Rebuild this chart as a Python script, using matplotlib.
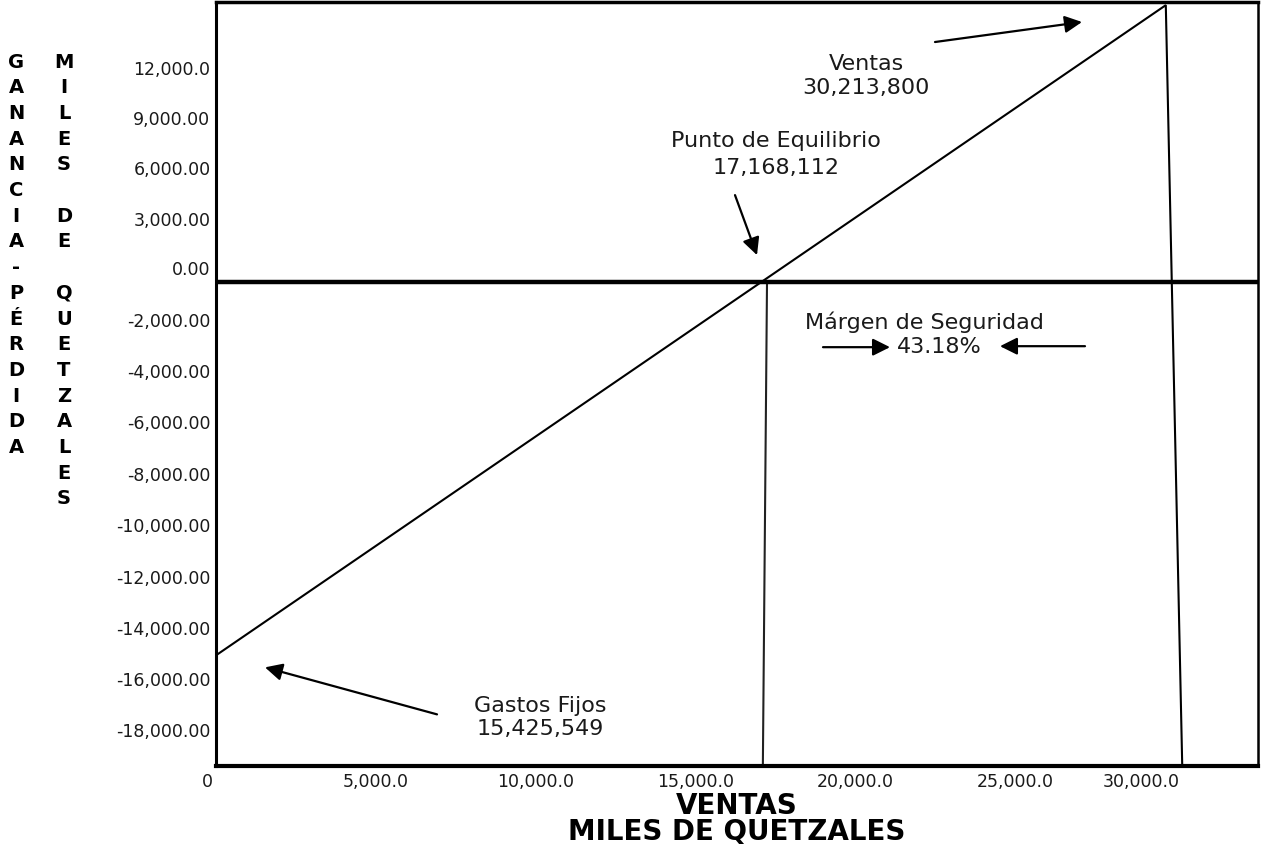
import matplotlib.pyplot as plt
from matplotlib.transforms import ScaledTranslation

# datos (miles de quetzales)
ventas_total = 30213.8
gastos_fijos = 15425.549
punto_equilibrio = 17168.112

# recta de resultado: arranca en -gastos fijos, sube hasta el borde y cae en ventas
linea_x = [0, 29700, 30214]
linea_y = [-15425.549, 11450, -20000]
equilibrio_x = [17230, 17100]
equilibrio_y = [0, -20000]

xtick_vals = [0, 5000, 10000, 15000, 20000, 25000, 30000]
xtick_labels = ["0", "5,000.0", "10,000.0", "15,000.0", "20,000.0", "25,000.0", "30,000.0"]
ytick_vals = [8850, 6780, 4715, 2605, 580, -1570, -3680, -5790, -7940,
              -10050, -12200, -14310, -16420, -18530]
ytick_labels = ["12,000.0", "9,000.00", "6,000.00", "3,000.00", "0.00", "-2,000.00",
                "-4,000.00", "-6,000.00", "-8,000.00", "-10,000.00", "-12,000.00",
                "-14,000.00", "-16,000.00", "-18,000.00"]

plt.rcParams['font.family'] = ['DejaVu Sans']

W, H = 1262, 846
fig = plt.figure(figsize=(W / 100, H / 100), dpi=100)
ax = fig.add_axes([216 / W, 1 - 766 / H, (1258 - 216) / W, (766 - 2) / H])

ax.plot(linea_x, linea_y, color='k', lw=1.5, solid_joinstyle='miter')
ax.plot(equilibrio_x, equilibrio_y, color='#222222', lw=1.5)
ax.axhline(0, color='k', lw=3.2)

ax.set_xlim(0, 32583)
ax.set_ylim(-20000, 11580)
ax.set_xticks(xtick_vals)
ax.set_xticklabels(xtick_labels)
ax.set_yticks(ytick_vals)
ax.set_yticklabels(ytick_labels)
ax.tick_params(length=0, labelsize=12.5, colors='#1a1a1a', pad=5)
ax.tick_params(axis='y', pad=4)

# en el original las etiquetas extremas del eje x quedan corridas a la izquierda
xl = ax.get_xticklabels()
xl[0].set_transform(xl[0].get_transform() + ScaledTranslation(-9 / 100, 0, fig.dpi_scale_trans))
xl[-1].set_transform(xl[-1].get_transform() + ScaledTranslation(-34 / 100, 0, fig.dpi_scale_trans))

for side, lw in [('left', 2.2), ('bottom', 3.0), ('top', 2.5), ('right', 1.8)]:
    ax.spines[side].set_linewidth(lw)
    ax.spines[side].set_color('k')

arrow = dict(arrowstyle='-|>', color='k', lw=1.6, mutation_scale=26, shrinkA=0, shrinkB=0)
txt = dict(fontsize=16, ha='center', va='center', color='#1a1a1a', linespacing=1.2)

ax.text(20325, 8520, "Ventas\n" + f"{ventas_total * 1000:,.0f}", **txt)
ax.annotate('', xy=(27079, 10753), xytext=(22483, 9926), arrowprops=arrow)

ax.text(17500, 5273, "Punto de Equilibrio\n" + f"{punto_equilibrio * 1000:,.0f}",
        **{**txt, 'linespacing': 1.4})
ax.annotate('', xy=(16917, 1117), xytext=(16229, 3598), arrowprops=arrow)

ax.text(22139, -1654, "Márgen de Seguridad", **txt)
ax.text(22608, -2688, "43.18%", **txt)
ax.annotate('', xy=(21076, -2688), xytext=(18981, -2688), arrowprops=arrow)
ax.annotate('', xy=(24515, -2647), xytext=(27173, -2647), arrowprops=arrow)

ax.text(10131, -17990, "Gastos Fijos\n" + f"{gastos_fijos * 1000:,.0f}", **txt)
ax.annotate('', xy=(1532, -15922), xytext=(6911, -17866), arrowprops=arrow)

# titulos de ejes
ax.set_xlabel("VENTAS\nMILES DE QUETZALES", fontsize=20, fontweight='bold',
              linespacing=0.9, labelpad=1)

step = 25.7
for col_x, palabra in [(16, "GANANCIA-PÉRDIDA"), (64, "MILES DE QUETZALES")]:
    for i, ch in enumerate(palabra):
        fig.text(col_x / W, 1 - (62 + i * step) / H, ch, fontsize=14, fontweight='bold',
                 ha='center', va='center', color='k')

fig.savefig("out.png", dpi=100)
